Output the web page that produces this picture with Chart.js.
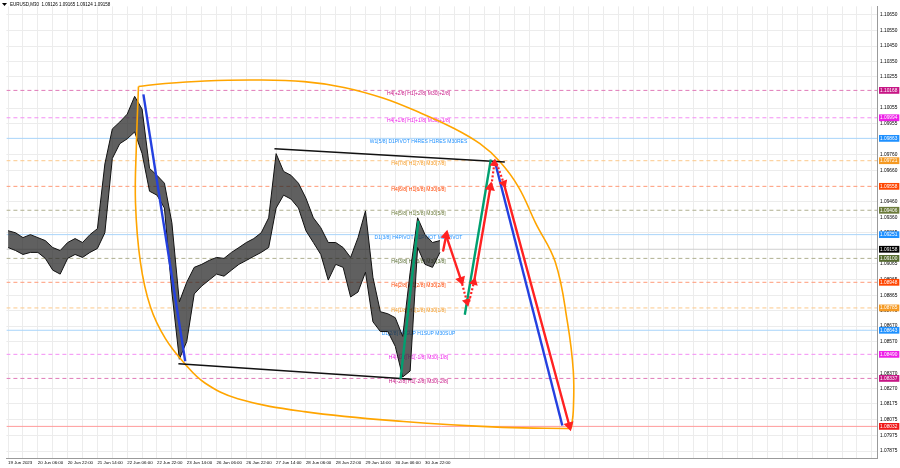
<!DOCTYPE html>
<html>
<head>
<meta charset="utf-8">
<script src="https://cdn.jsdelivr.net/npm/chart.js@4.4.0/dist/chart.umd.min.js"></script>
<style>
  html, body { margin: 0; padding: 0; background: #fff; }
  #chart { display: block; }
</style>
</head>
<body>
<canvas id="chart" width="900" height="468"></canvas>
<script>
// time axis: one label every 32 bars (M30)
var timeLabels = ['19 Jun 2023', '20 Jun 06:00', '20 Jun 22:00', '21 Jun 14:00', '22 Jun 06:00', '22 Jun 22:00',
  '23 Jun 14:00', '26 Jun 06:00', '26 Jun 22:00', '27 Jun 14:00', '28 Jun 06:00', '28 Jun 22:00',
  '29 Jun 14:00', '30 Jun 06:00', '30 Jun 22:00'];

// price scale labels
var priceTicks = [1.10650, 1.10550, 1.10450, 1.10350, 1.10255, 1.10055, 1.09955, 1.09760, 1.09660, 1.09460,
  1.09360, 1.09265, 1.09065, 1.08965, 1.08865, 1.08770, 1.08670, 1.08570, 1.08370, 1.08270, 1.08175,
  1.08075, 1.07975, 1.07875];

// price history, sampled every 8 bars (local high / low)
var candleBars = [0, 8, 16, 24, 32, 40, 48, 56, 64, 72, 80, 88, 96, 104, 112, 120, 128, 136, 144, 152, 160,
  168, 176, 184, 192, 200, 208, 216, 224, 232, 240, 248, 256, 264, 272, 280, 288, 296, 304, 312, 320, 328,
  336, 344, 352, 360, 368, 376, 384, 392, 400, 408, 416, 424, 432, 440, 448, 456, 464];
var candleHigh = [1.09276, 1.09263, 1.09232, 1.09251, 1.09232, 1.09213, 1.09169, 1.09150, 1.09201, 1.09226,
  1.09201, 1.09251, 1.09289, 1.09700, 1.09923, 1.09967, 1.10017, 1.10130, 1.10049, 1.09672, 1.09628,
  1.09578, 1.09326, 1.08824, 1.08949, 1.09043, 1.09062, 1.09087, 1.09106, 1.09100, 1.09138, 1.09169,
  1.09201, 1.09226, 1.09263, 1.09358, 1.09766, 1.09653, 1.09628, 1.09578, 1.09483, 1.09358, 1.09295,
  1.09201, 1.09201, 1.09169, 1.09106, 1.09232, 1.09402, 1.08980, 1.08761, 1.08748, 1.08723, 1.08604,
  1.09012, 1.09358, 1.09251, 1.09201, 1.09213];
var candleLow = [1.09169, 1.09150, 1.09125, 1.09138, 1.09138, 1.09100, 1.09025, 1.09000, 1.09100, 1.09125,
  1.09106, 1.09138, 1.09163, 1.09263, 1.09735, 1.09829, 1.09860, 1.09904, 1.09766, 1.09527, 1.09502,
  1.09420, 1.08886, 1.08459, 1.08572, 1.08874, 1.08924, 1.08962, 1.09000, 1.08987, 1.09025, 1.09062,
  1.09087, 1.09113, 1.09138, 1.09169, 1.09420, 1.09502, 1.09477, 1.09420, 1.09276, 1.09201, 1.09125,
  1.08962, 1.09062, 1.09043, 1.08855, 1.08886, 1.09012, 1.08697, 1.08635, 1.08635, 1.08541, 1.08346,
  1.08384, 1.09169, 1.09062, 1.09043, 1.09138];

// horizontal levels
var levelPrices = [1.10168, 1.09994, 1.09863, 1.09721, 1.09558, 1.09406, 1.09251, 1.09158, 1.09100,
  1.08948, 1.08785, 1.08643, 1.08490, 1.08337, 1.08032];
var levelTexts = ['H4[+2/8] H1[+2/8] M30[+2/8]', 'H4[+1/8] H1[+1/8] M30[+1/8]',
  'W1[5/8] D1PIVOT H4RES H1RES M30RES', 'H4[7/8] H1[7/8] M30[7/8]', 'H4[6/8] H1[6/8] M30[6/8]',
  'H4[5/8] H1[5/8] M30[5/8]', 'D1[3/8] H4PIVOT H1PIVOT M30PIVOT', '', 'H4[3/8] H1[3/8] M30[3/8]',
  'H4[2/8] H1[2/8] M30[2/8]', 'H4[1/8] H1[1/8] M30[1/8]', 'D1[2/8] H4SUP H1SUP M30SUP',
  'H4[-1/8] H1[-1/8] M30[-1/8]', 'H4[-2/8] H1[-2/8] M30[-2/8]', ''];
var levelLabelBar = 441;

// drawn objects (bar index, price)
var ellipseUpper = [[140.1, 1.10193], [168.9, 1.10212], [211.5, 1.10228], [264.9, 1.10234], [318.2, 1.10224],
  [360.9, 1.10187], [403.5, 1.10118], [440.9, 1.10030], [478.2, 1.09929], [507.0, 1.09829], [528.3, 1.09716],
  [548.6, 1.09552], [566.7, 1.09326], [588.0, 1.09075], [600.9, 1.08698], [607.3, 1.08384], [607.3, 1.08132],
  [605.1, 1.08019]];
var ellipseLower = [[605.1, 1.08019], [531.5, 1.08026], [424.9, 1.08063], [318.2, 1.08126], [246.8, 1.08208],
  [211.5, 1.08308], [190.2, 1.08428], [168.9, 1.08591], [152.9, 1.08792], [142.2, 1.09075], [136.9, 1.09452],
  [137.9, 1.09829], [140.1, 1.10193]];
var blackLines = [[[183.0, 1.08430], [433.7, 1.08332]], [[286.2, 1.09797], [533.7, 1.09713]]];
var blueLines = [[[145.4, 1.10143], [190.3, 1.08446]], [[522.7, 1.09724], [595.5, 1.08038]]];
var greenLines = [[[421.7, 1.08334], [440.9, 1.09339]], [[490.7, 1.08742], [518.7, 1.09729]]];
var redSolid = [[[467.5, 1.09150], [470.7, 1.09245]], [[470.7, 1.09245], [486.7, 1.08962]],
  [[500.6, 1.08949], [518.2, 1.09552]], [[532.6, 1.09577], [603.0, 1.08038]]];
var redDotted = [[[486.7, 1.08962], [493.1, 1.08824]], [[495.3, 1.08824], [500.6, 1.08949]],
  [[519.3, 1.09565], [522.5, 1.09703]], [[525.1, 1.09703], [532.6, 1.09577]]];

// styles
var levelBoxColors = ['#c71585', '#ee1ee8', '#1e90ff', '#f59a23', '#ff4500', '#6b7a3a', '#1e90ff', '#000000',
  '#556b2f', '#ff4500', '#f59a23', '#1e90ff', '#ee1ee8', '#c71585', '#f01818'];
var levelLineColors = ['#e07ab8', '#f48ef4', '#a8d4fa', '#fcc88a', '#ff9a78', '#b0b090', '#a8d4fa', '#cfcfcf',
  '#b0b090', '#ff9a78', '#fcc88a', '#a8d4fa', '#f48ef4', '#e07ab8', '#ff9a9a'];
var levelDashed = [true, true, false, true, true, true, false, false, true, true, true, false, true, true, false];

var xMin = -1.8, xMax = 933.6, yMin = 1.07831, yMax = 1.10702;

function pts(arr) { return arr.map(function (p) { return { x: p[0], y: p[1] }; }); }

function arrowAngle(ctx) {
  var ch = ctx.chart, d = ctx.dataset.data;
  var dx = ch.scales.x.getPixelForValue(d[1].x) - ch.scales.x.getPixelForValue(d[0].x);
  var dy = ch.scales.y.getPixelForValue(d[1].y) - ch.scales.y.getPixelForValue(d[0].y);
  return Math.atan2(dx, -dy) * 180 / Math.PI;
}

var datasets = [];

function segDataset(seg, color, width, order, opts) {
  var ds = {
    type: 'line', data: pts(seg), borderColor: color, backgroundColor: color, borderWidth: width,
    pointRadius: 0, tension: 0, order: order
  };
  if (opts) Object.keys(opts).forEach(function (k) { ds[k] = opts[k]; });
  return ds;
}

redSolid.forEach(function (s) {
  datasets.push(segDataset(s, '#ff2222', 2.4, 1, {
    pointStyle: 'triangle', pointRotation: arrowAngle, borderCapStyle: 'round',
    pointRadius: function (c) { return c.dataIndex === 1 ? 3.5 : 0; }
  }));
});
redDotted.forEach(function (s) {
  datasets.push(segDataset(s, '#ff2222', 2.2, 1, {
    borderDash: [2, 2], pointStyle: 'triangle', pointRotation: arrowAngle,
    pointRadius: function (c) { return c.dataIndex === 1 ? 3 : 0; }
  }));
});
greenLines.forEach(function (s) { datasets.push(segDataset(s, '#00a070', 2.4, 2)); });
blueLines.forEach(function (s) { datasets.push(segDataset(s, '#2440e0', 2.4, 2)); });
blackLines.forEach(function (s) { datasets.push(segDataset(s, '#111111', 1.6, 3)); });
datasets.push(segDataset(ellipseUpper, '#ffa500', 1.6, 4, { tension: 0.4 }));
datasets.push(segDataset(ellipseLower, '#ffa500', 1.6, 4, { tension: 0.4 }));

// candles as a high/low ribbon
datasets.push({
  type: 'line', data: candleBars.map(function (b, i) { return { x: b, y: candleLow[i] }; }),
  borderColor: '#111', borderWidth: 1, pointRadius: 0, tension: 0, order: 5
});
datasets.push({
  type: 'line', data: candleBars.map(function (b, i) { return { x: b, y: candleHigh[i] }; }),
  borderColor: '#111', borderWidth: 1, pointRadius: 0, tension: 0, order: 5,
  fill: '-1', backgroundColor: 'rgba(35,35,35,0.72)'
});

levelPrices.forEach(function (p, i) {
  datasets.push({
    type: 'line', data: [{ x: xMin, y: p }, { x: xMax, y: p }],
    borderColor: levelLineColors[i], borderWidth: 1, borderDash: levelDashed[i] ? [4, 3] : [],
    pointRadius: 0, order: 8
  });
});

function levelIndex(v) {
  for (var i = 0; i < levelPrices.length; i++) if (Math.abs(levelPrices[i] - v) < 1e-7) return i;
  return -1;
}

var overlay = {
  id: 'overlay',
  beforeDatasetsDraw: function (chart) {
    var c = chart.ctx, x = chart.scales.x, y = chart.scales.y;
    c.save();
    c.font = '5px "Liberation Sans", Arial, sans-serif';
    c.textAlign = 'center';
    c.textBaseline = 'top';
    levelPrices.forEach(function (p, i) {
      if (!levelTexts[i]) return;
      c.fillStyle = levelBoxColors[i];
      c.fillText(levelTexts[i], x.getPixelForValue(levelLabelBar), y.getPixelForValue(p) + 0.5);
    });
    c.restore();
  },
  afterDraw: function (chart) {
    var c = chart.ctx;
    c.save();
    c.fillStyle = '#000';
    c.beginPath();
    c.moveTo(2, 3); c.lineTo(7, 3); c.lineTo(4.5, 6); c.closePath(); c.fill();
    c.font = '4.5px "Liberation Sans", Arial, sans-serif';
    c.textBaseline = 'middle';
    c.fillText('EURUSD,M30  1.09126 1.09165 1.09124 1.09158', 10, 5);
    c.restore();
  }
};

Chart.defaults.font.family = '"Liberation Sans", Arial, sans-serif';
Chart.defaults.font.size = 5;
Chart.defaults.color = '#000';

new Chart(document.getElementById('chart'), {
  type: 'line',
  data: { datasets: datasets },
  options: {
    responsive: false,
    animation: false,
    devicePixelRatio: 1,
    layout: { padding: { top: 1, left: 0, right: 0, bottom: 0 } },
    plugins: { legend: { display: false }, tooltip: { enabled: false } },
    events: [],
    scales: {
      x: {
        type: 'linear', min: xMin, max: xMax, position: 'bottom',
        afterBuildTicks: function (s) {
          var t = [];
          for (var v = 0; v <= s.max; v += 16) t.push({ value: v });
          s.ticks = t;
        },
        afterFit: function (s) { s.height = 10; },
        grid: { color: '#ececec', drawTicks: false },
        border: { color: '#9a9a9a' },
        ticks: {
          autoSkip: false, maxRotation: 0, align: 'start', padding: 2,
          font: { size: 4.4 },
          callback: function (v) { return (v % 32 === 0 && timeLabels[v / 32]) || ''; }
        }
      },
      y: {
        type: 'linear', min: yMin, max: yMax, position: 'right',
        afterBuildTicks: function (s) {
          s.ticks = priceTicks.concat(levelPrices).map(function (v) { return { value: v }; });
        },
        afterFit: function (s) { s.width = 23; },
        grid: {
          drawTicks: false,
          color: function (c) { return c.tick && levelIndex(c.tick.value) < 0 ? '#ececec' : 'rgba(0,0,0,0)'; }
        },
        border: { color: '#9a9a9a' },
        ticks: {
          autoSkip: false, padding: 3, font: { size: 4.8 },
          showLabelBackdrop: true,
          backdropPadding: { top: 0.5, bottom: 0.5, left: 1, right: 2 },
          backdropColor: function (c) {
            var i = c.tick ? levelIndex(c.tick.value) : -1;
            return i >= 0 ? levelBoxColors[i] : 'rgba(0,0,0,0)';
          },
          color: function (c) { return c.tick && levelIndex(c.tick.value) >= 0 ? '#fff' : '#000'; },
          callback: function (v) { return v.toFixed(5); }
        }
      }
    }
  },
  plugins: [overlay]
});
</script>
</body>
</html>
